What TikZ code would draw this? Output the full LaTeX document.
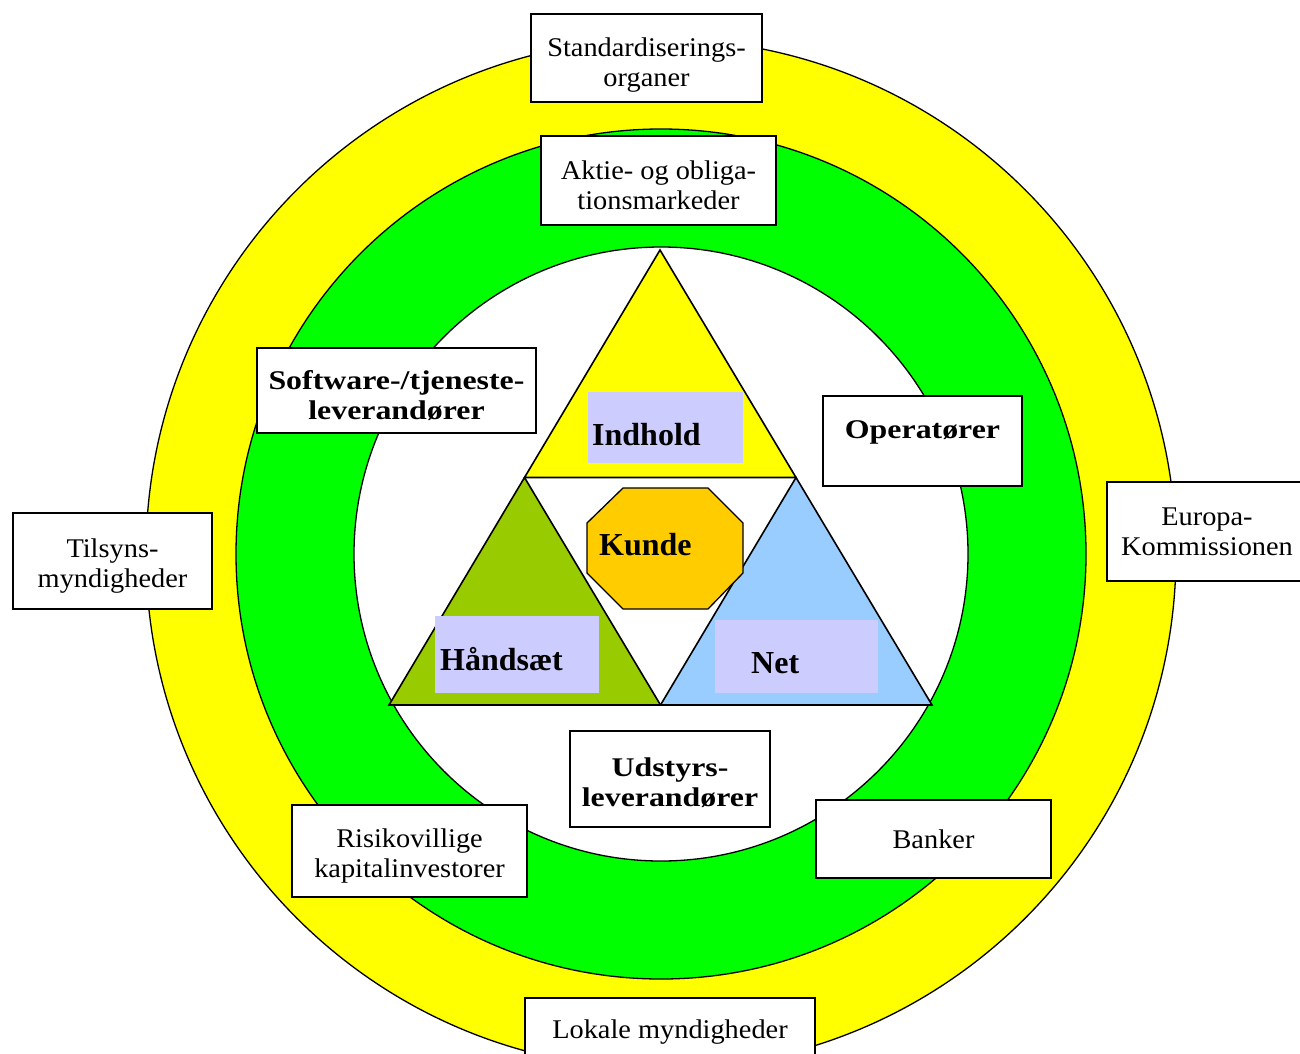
\documentclass[tikz,border=0pt]{standalone}
\usepackage{fontspec}
\newfontfamily\timesfont{Liberation Serif}
\newfontfamily\orgfont{Liberation Serif}[FakeStretch=1.05,BoldFeatures={FakeStretch=1.18}]
\definecolor{ringyellow}{HTML}{FFFF00}
\definecolor{ringgreen}{HTML}{00FF00}
\definecolor{triyellow}{HTML}{FFFF00}
\definecolor{triolive}{HTML}{99CC00}
\definecolor{triblue}{HTML}{99CCFF}
\definecolor{lavender}{HTML}{CCCCFF}
\definecolor{kundeorange}{HTML}{FFCC00}
\tikzset{
	Ring/.style={draw=black,line width=1.3pt},
	Tri/.style={draw=black,line width=1.6pt},
	OrgBox/.style={draw=black,line width=1.6pt,fill=white,align=center,inner sep=0pt,
	  font=\orgfont\fontsize{27}{30}\selectfont},
	OrgBold/.style={OrgBox,font=\orgfont\fontsize{27}{30}\selectfont\bfseries},
	LabelBox/.style={fill=lavender,inner sep=0pt,anchor=north west},
	CoreText/.style={font=\timesfont\bfseries\fontsize{32}{36}\selectfont,inner sep=0pt,
	  anchor=base west}
		}
\tikzset{dim/.style 2 args={minimum width=#1pt,minimum height=#2pt}}
\tikzset{lower/.style={text height=#1pt}}% pushes the text down in its box

\begin{document}
\begin{tikzpicture}[x=1pt,y=-1pt]
	\useasboundingbox (0,0) rectangle (1300,1053);

	% the three rings
	\def\cx{661}\def\cy{554}
	\filldraw[Ring,fill=ringyellow] (\cx,\cy) circle (515);
	\filldraw[Ring,fill=ringgreen] (\cx,\cy) circle (425);
	\filldraw[Ring,fill=white] (\cx,\cy) circle (307);

	% corners of the big triangle and its midpoints
	\coordinate (T) at (660,250);
	\coordinate (L) at (389,705);
	\coordinate (R) at (932,705);
	\coordinate (ML) at (524.5,477.5);
	\coordinate (MR) at (796,477.5);
	\coordinate (MB) at (660.5,705);

	\filldraw[Tri,fill=triyellow] (T) -- (ML) -- (MR) -- cycle;
	\filldraw[Tri,fill=triolive] (ML) -- (L) -- (MB) -- cycle;
	\filldraw[Tri,fill=triblue] (MR) -- (MB) -- (R) -- cycle;

	% label fields
	\node[LabelBox,dim={155}{71}] (indholdbox) at (588,392) {};
	\node[LabelBox,dim={164}{77}] (handsaetbox) at (435,616) {};
	\node[LabelBox,dim={163}{73}] (netbox) at (715,620) {};

	% customer in the middle
	\filldraw[Ring,fill=kundeorange] (623,488) -- (708,488) -- (743,523) -- (743,573)
	  -- (708,609) -- (623,609) -- (587,573) -- (587,523) -- cycle;

	\node[CoreText] (indhold) at (592,445) {Indhold};
	\node[CoreText] (handsaet) at (440,670) {Håndsæt};
	\node[CoreText] (net) at (751,673) {Net};
	\node[CoreText] (kunde) at (599,555) {Kunde};

	% actors around
	\node[OrgBox,dim={231}{88},lower=62] (standard) at (646.5,58) {Standardiserings-\\organer};
	\node[OrgBox,dim={235}{89},lower=58] (aktie) at (658.5,180.5) {Aktie- og obliga-\\tionsmarkeder};
	\node[OrgBold,dim={279}{85},lower=60] (software) at (396.5,390.5) {Software-/tjeneste-\\leverandører};
	\node[OrgBold,dim={199}{90},text depth=22pt] (operator) at (922.5,441) {Operatører};
	\node[OrgBox,dim={199}{96},lower=58] (tilsyn) at (112.5,561) {Tilsyns-\\myndigheder};
	\node[OrgBox,dim={200}{99}] (europa) at (1207,531.5) {Europa-\\Kommissionen};
	\node[OrgBold,dim={200}{96},lower=56] (udstyr) at (670,779) {Udstyrs-\\leverandører};
	\node[OrgBox,dim={235}{92},lower=58] (risiko) at (409.5,851) {Risikovillige\\kapitalinvestorer};
	\node[OrgBox,dim={235}{78}] (banker) at (933.5,839) {Banker};
	\node[OrgBox,dim={290}{68}] (lokale) at (670,1032) {Lokale myndigheder};
\end{tikzpicture}
\end{document}
